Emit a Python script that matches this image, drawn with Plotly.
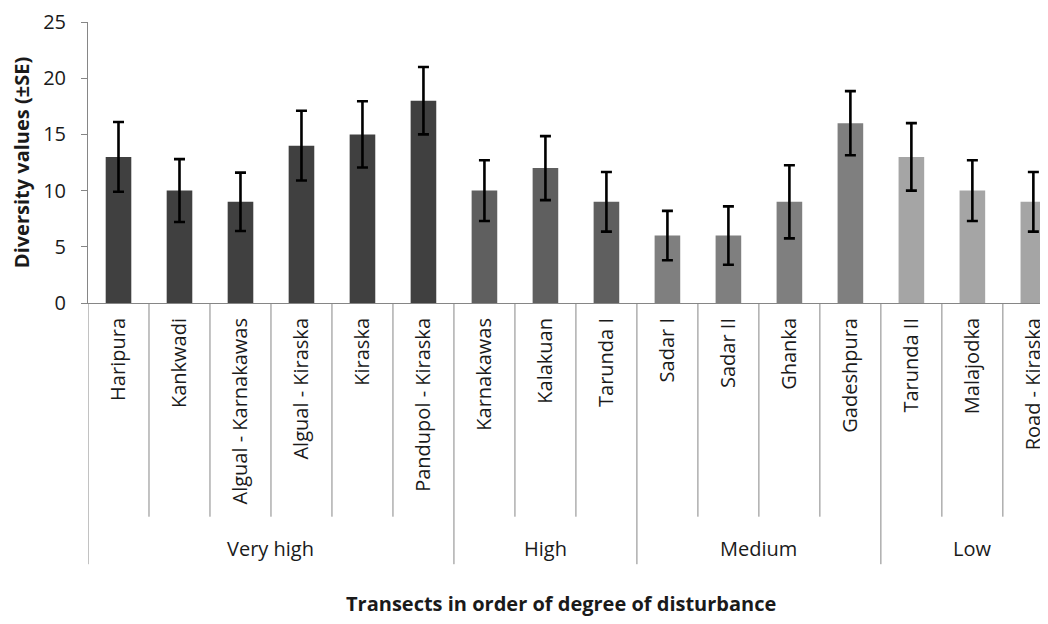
import plotly.graph_objects as go

# ---- data ----
transects = ["Haripura", "Kankwadi", "Algual - Karnakawas", "Algual - Kiraska", "Kiraska",
             "Pandupol - Kiraska", "Karnakawas", "Kalakuan", "Tarunda I", "Sadar I", "Sadar II",
             "Ghanka", "Gadeshpura", "Tarunda II", "Malajodka", "Road - Kiraska"]
diversity = [13, 10, 9, 14, 15, 18, 10, 12, 9, 6, 6, 9, 16, 13, 10, 9]
se = [3.1, 2.8, 2.6, 3.1, 2.95, 3.0, 2.7, 2.85, 2.65, 2.2, 2.6, 3.25, 2.85, 3.0, 2.7, 2.65]
groups = ["Very high", "High", "Medium", "Low"]
group_sizes = [6, 3, 4, 3]
group_colors = ["#404040", "#5f5f5f", "#7f7f7f", "#a5a5a5"]
y_ticks = [0, 5, 10, 15, 20, 25]

# ---- derived ----
bar_colors = []
for c, n in zip(group_colors, group_sizes):
    bar_colors += [c] * n
xpos = list(range(len(transects)))

# page has an 8px body margin; figure placed at (8, 8)
W, H = 1040, 616
ML, MT, MB = 80, 11, 321
plot_h = H - MT - MB
SCREEN_AXIS_Y = 303
def py(pix):  # screen pixel y -> paper y
    return (SCREEN_AXIS_Y - pix) / plot_h

FONT = "Open Sans"
TXT = "#1a1a1a"
AX = "#868686"

fig = go.Figure()
fig.add_trace(go.Bar(
    x=xpos, y=diversity, width=0.42,
    marker=dict(color=bar_colors, line=dict(width=0)),
    error_y=dict(type="data", array=se, visible=True, color="black", thickness=2.6, width=5.5),
    showlegend=False,
))

shapes = []
bounds = [-0.5]
acc = -0.5
for n in group_sizes:
    acc += n
    bounds.append(acc)
for i in range(len(transects) + 1):
    xb = i - 0.5
    long_ = xb in bounds
    shapes.append(dict(type="line", xref="x", yref="paper", x0=xb, x1=xb,
                       y0=0, y1=py(567) if long_ else py(519),
                       line=dict(color=AX, width=1)))
annotations = []
start = 0
for g, n in zip(groups, group_sizes):
    annotations.append(dict(x=start + (n - 1) / 2, y=py(551), xref="x", yref="paper",
                            text=g, showarrow=False, font=dict(family=FONT, size=20, color=TXT),
                            xanchor="center", yanchor="middle"))
    start += n
annotations.append(dict(x=(561 - 88) / (W - ML), y=py(607), xref="paper", yref="paper",
                        text="<b>Transects in order of degree of disturbance</b>", showarrow=False,
                        font=dict(family=FONT, size=20, color=TXT), xanchor="center", yanchor="middle"))

fig.update_layout(
    width=W, height=H,
    margin=dict(l=ML, r=0, t=MT, b=MB, pad=0),
    plot_bgcolor="white", paper_bgcolor="white",
    shapes=shapes, annotations=annotations,
    xaxis=dict(range=[-0.5, 15.24], tickmode="array", tickvals=xpos, ticktext=transects,
               tickangle=-90, ticks="", showline=True, linecolor=AX, linewidth=1,
               showgrid=False, zeroline=False, ticklabelstandoff=6,
               tickfont=dict(family=FONT, size=20, color=TXT)),
    yaxis=dict(range=[0, 25], tickmode="array", tickvals=y_ticks, ticks="outside",
               ticklen=6, tickcolor=AX, showline=True, linecolor=AX, linewidth=1,
               showgrid=False, zeroline=False, ticklabelstandoff=11,
               ticklabeloverflow="allow",
               tickfont=dict(family=FONT, size=20, color=TXT),
               title=dict(text="<b>Diversity values (±SE)</b>", standoff=12,
                          font=dict(family=FONT, size=20, color=TXT))),
)

fig.write_html("out.html")
